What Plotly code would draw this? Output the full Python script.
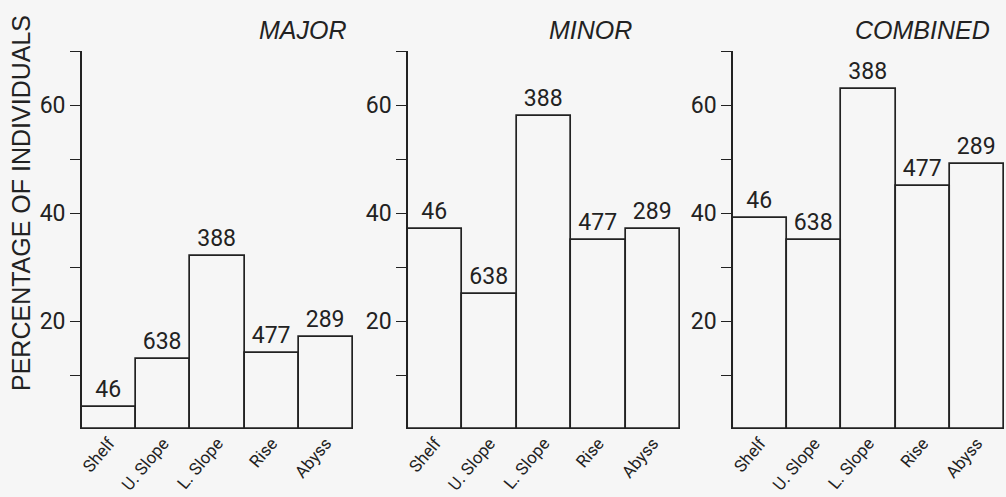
import plotly.graph_objects as go

# Depth zones and sample sizes (number of individuals per zone)
zones = ["Shelf", "U. Slope", "L. Slope", "Rise", "Abyss"]
sample_sizes = ["46", "638", "388", "477", "289"]

# Percentage of individuals in each zone
major = [4, 13, 32, 14, 17]
minor = [37, 25, 58, 35, 37]
combined = [39, 35, 63, 45, 49]

panel_titles = ["MAJOR", "MINOR", "COMBINED"]
panel_values = [major, minor, combined]

y_ticks = [10, 20, 30, 40, 50, 60, 70]
y_tick_text = ["", "20", "", "40", "", "60", ""]

BG = "#f6f6f6"
INK = "#222222"
NUMFONT = "Roboto, Liberation Sans, sans-serif"
WIDEFONT = "Liberation Sans, Arial, sans-serif"

domains = [[0.0, 0.2939], [0.3536, 0.6486], [0.7061, 1.0]]
title_x = [303, 590, 922]

fig = go.Figure()

for i, (vals, name) in enumerate(zip(panel_values, panel_titles)):
    ax = "" if i == 0 else str(i + 1)
    fig.add_trace(go.Bar(
        x=zones, y=vals,
        text=sample_sizes, textposition="outside",
        textfont=dict(family=NUMFONT, size=23, color=INK),
        cliponaxis=False,
        marker=dict(color="rgba(0,0,0,0)", line=dict(color=INK, width=1.7)),
        xaxis="x" + ax, yaxis="y" + ax,
        showlegend=False, hoverinfo="skip",
    ))
    fig.layout["xaxis" + ax] = dict(
        domain=domains[i], anchor="y" + ax, showgrid=False, zeroline=False,
        showline=False, ticks="",
        tickangle=-50, automargin=False,
        tickfont=dict(family=NUMFONT, size=17, color=INK),
        fixedrange=True,
    )
    fig.layout["yaxis" + ax] = dict(
        domain=[0, 1], anchor="x" + ax, range=[0, 70], showgrid=False,
        zeroline=False, showline=True, linecolor=INK, linewidth=1.7,
        ticks="outside", ticklen=10, tickwidth=1.4, tickcolor=INK,
        tickvals=y_ticks, ticktext=y_tick_text, automargin=False,
        tickfont=dict(family=NUMFONT, size=23, color=INK),
        fixedrange=True,
    )
    fig.add_annotation(
        text="<i>" + name + "</i>", xref="paper", yref="paper",
        x=(title_x[i] - 82) / 922, y=(497 - 30 - 68) / 378,
        xanchor="center", yanchor="middle", showarrow=False,
        font=dict(family=WIDEFONT, size=25, color=INK),
    )

fig.add_annotation(
    text="PERCENTAGE OF INDIVIDUALS", xref="paper", yref="paper",
    x=(21 - 82) / 922, y=(497 - 203 - 68) / 378, textangle=-90,
    xanchor="center", yanchor="middle", showarrow=False,
    font=dict(family=WIDEFONT, size=25, color=INK),
)

fig.update_layout(
    width=1006, height=497,
    margin=dict(l=82, r=2, t=51, b=68, autoexpand=False),
    paper_bgcolor=BG, plot_bgcolor=BG,
    bargap=0,
)

fig.write_html("out.html")
